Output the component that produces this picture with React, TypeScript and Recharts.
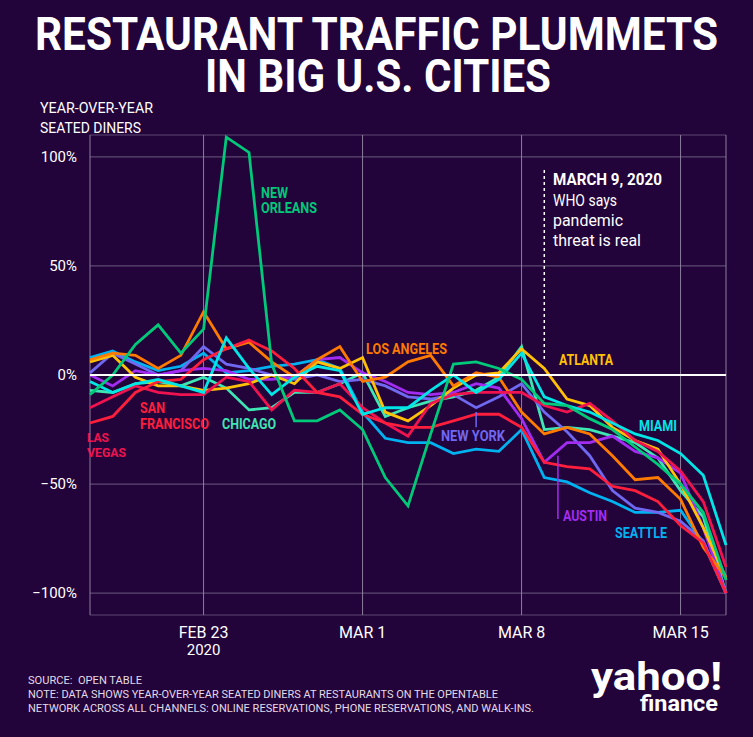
import React from 'react';
import { LineChart, Line, XAxis, YAxis, CartesianGrid, ReferenceLine } from 'recharts';

const dates = [
  'Feb 18', 'Feb 19', 'Feb 20', 'Feb 21', 'Feb 22', 'Feb 23', 'Feb 24', 'Feb 25', 'Feb 26', 'Feb 27',
  'Feb 28', 'Feb 29', 'Mar 1', 'Mar 2', 'Mar 3', 'Mar 4', 'Mar 5', 'Mar 6', 'Mar 7', 'Mar 8',
  'Mar 9', 'Mar 10', 'Mar 11', 'Mar 12', 'Mar 13', 'Mar 14', 'Mar 15', 'Mar 16', 'Mar 17',
];

// year-over-year change in seated diners, %
const newOrleans = [-9, 0, 14, 23, 10, 21, 109, 102, 5, -21, -21, -16, -25, -47, -60, -27, 5, 6, 3, -2, -13, -14, -20, -25, -33, -41, -50, -63, -94];
const losAngeles = [7, 10, 9, 3, 9, 29, 12, 15, 6, -1, 7, 13, -3, -1, 6, 9, -5, 1, -1, -17, -27, -24, -27, -37, -48, -47, -57, -79, -93];
const atlanta = [6, 9, -1, -5, -5, -7, -6, -4, 0, -4, 6, 3, 8, -17, -21, -14, -6, 0, 1, 12, 3, -11, -14, -24, -30, -34, -50, -70, -93];
const miami = [-3, -8, -4, -2, -5, -8, 17, 3, -9, -1, 4, 2, -18, -15, -15, -7, 0, -8, -2, 10, -10, -14, -17, -22, -27, -30, -36, -46, -78];
const seattle = [8, 11, 6, 2, 4, 10, 1, 2, 4, 5, 7, 3, -17, -29, -31, -31, -36, -34, -35, -25, -47, -49, -54, -58, -63, -63, -62, -77, -100];
const newYork = [1, 10, 5, 0, 2, 13, 5, 3, 0, -2, 0, -3, -2, -5, -10, -11, -9, -15, -10, -4, -17, -26, -37, -53, -61, -63, -67, -76, -100];
const austin = [0, -5, 2, 0, 2, 3, 2, -2, -2, -1, 7, 8, 1, -3, -8, -9, -8, -4, -6, -20, -40, -31, -31, -28, -35, -38, -45, -70, -100];
const sanFrancisco = [-15, -10, -5, -8, -9, -9, -1, -3, -16, -7, -8, -4, -15, -22, -28, -13, -9, -8, -8, -8, -14, -17, -13, -21, -30, -35, -44, -58, -88];
const lasVegas = [-22, -19, -8, -3, -2, 7, 12, 16, 11, 3, -8, -10, -18, -22, -24, -24, -21, -18, -18, -24, -40, -42, -43, -51, -53, -58, -69, -77, -100];
const chicago = [-7, -8, -4, -3, -5, -1, -6, -16, -15, -8, -8, -4, 1, -19, -15, -12, -10, -7, -1, 13, -25, -24, -25, -28, -31, -38, -53, -65, -100];

const yTicks = [-100, -50, 0, 50, 100];
const xTicks = [5, 12, 19, 26];

const cities = [
  { key: 'chicago', values: chicago, color: '#3ee6b4' },
  { key: 'seattle', values: seattle, color: '#00b2f0' },
  { key: 'newYork', values: newYork, color: '#7068f0' },
  { key: 'austin', values: austin, color: '#a32cf2' },
  { key: 'atlanta', values: atlanta, color: '#ffc107' },
  { key: 'losAngeles', values: losAngeles, color: '#ff7a00' },
  { key: 'sanFrancisco', values: sanFrancisco, color: '#f0134f' },
  { key: 'lasVegas', values: lasVegas, color: '#ff1f3d' },
  { key: 'miami', values: miami, color: '#00e5e5' },
  { key: 'newOrleans', values: newOrleans, color: '#00c97a' },
];

const data = dates.map((d, i) => {
  const row: Record<string, number | string> = { i, date: d };
  cities.forEach((c) => { row[c.key] = c.values[i]; });
  return row;
});

const BG = '#22033a';
const FONT = 'Roboto, "DejaVu Sans", sans-serif';

const DateTick = (props: any) => {
  const { x, y, payload } = props;
  const label = dates[payload.value].toUpperCase();
  return (
    <g>
      <text x={x} y={y + 15} textAnchor="middle" fill="#fff" fontSize={16} fontFamily={FONT}>{label}</text>
      {payload.value === 5 && (
        <text x={x} y={y + 32} textAnchor="middle" fill="#fff" fontSize={15} fontFamily={FONT}>2020</text>
      )}
    </g>
  );
};

const PctTick = (props: any) => {
  const { x, y, payload } = props;
  const v = payload.value;
  const label = v < 0 ? `\u2212${-v}%` : `${v}%`;
  return (
    <text x={x} y={y + 5} textAnchor="end" fill="#fff" fontSize={15} fontFamily={FONT}>{label}</text>
  );
};

const Lbl = ({ x, y, w, color, size = 14, weight = 700, children }: any) => (
  <text x={x} y={y} fill={color} fontSize={size} fontWeight={weight} fontFamily={FONT}
    textLength={w} lengthAdjust="spacingAndGlyphs" style={{ whiteSpace: 'pre' }}>{children}</text>
);

export default function App() {
  return (
    <div style={{ position: 'relative', width: 753, height: 737, background: BG, overflow: 'hidden' }}>
      <style>{'body{margin:0}'}</style>
      <LineChart width={753} height={737} data={data} margin={{ top: 135, right: 27, bottom: 0, left: 0 }}>
        <CartesianGrid horizontal={true} vertical={false} stroke="#5d4a72" strokeWidth={1.2} />
        <CartesianGrid horizontal={false} vertical={true} stroke="#8c7f9c" strokeWidth={1} />
        <XAxis dataKey="i" type="number" domain={[0, 28]} ticks={xTicks} height={122}
          axisLine={false} tickLine={false} tick={<DateTick />} interval={0} />
        <YAxis type="number" domain={[-110, 110]} ticks={yTicks} width={90}
          axisLine={false} tickLine={false} tick={<PctTick />} tickMargin={7} interval={0} />
        {cities.map((c) => (
          <Line key={c.key} dataKey={c.key} stroke={c.color} strokeWidth={2.8} dot={false}
            type="linear" isAnimationActive={false} strokeLinejoin="miter" />
        ))}
        <ReferenceLine y={0} stroke="#ffffff" strokeWidth={2} />
        <ReferenceLine segment={[{ x: 20, y: 94 }, { x: 20, y: 6 }]} stroke="#ffffff" strokeWidth={1.5} strokeDasharray="3 3" />
        <ReferenceLine segment={[{ x: 17, y: -17 }, { x: 17, y: -24 }]} stroke="#7068f0" strokeWidth={1.5} />
        <ReferenceLine segment={[{ x: 20.6, y: -37 }, { x: 20.6, y: -66 }]} stroke="#a32cf2" strokeWidth={1.5} />
      </LineChart>

      <svg width={753} height={737} style={{ position: 'absolute', left: 0, top: 0, pointerEvents: 'none' }}>
        <Lbl x={35} y={50} w={683} color="#fff" size={46} weight={700}>RESTAURANT TRAFFIC PLUMMETS</Lbl>
        <Lbl x={205} y={92} w={346} color="#fff" size={46} weight={700}>IN BIG U.S. CITIES</Lbl>

        <Lbl x={40} y={113} w={113} color="#fff" size={14} weight={400}>YEAR-OVER-YEAR</Lbl>
        <Lbl x={40} y={133} w={101} color="#fff" size={14} weight={400}>SEATED DINERS</Lbl>

        <Lbl x={553} y={185} w={109} color="#fff" size={16} weight={700}>MARCH 9, 2020</Lbl>
        <Lbl x={553} y={206} w={64} color="#fff" size={16} weight={400}>WHO says</Lbl>
        <Lbl x={553} y={226} w={70} color="#fff" size={16} weight={400}>pandemic</Lbl>
        <Lbl x={553} y={246} w={88} color="#fff" size={16} weight={400}>threat is real</Lbl>

        <Lbl x={261} y={198} w={27} color="#00c97a">NEW</Lbl>
        <Lbl x={261} y={213} w={56} color="#00c97a">ORLEANS</Lbl>
        <Lbl x={366} y={354} w={81} color="#ff7a00">LOS ANGELES</Lbl>
        <Lbl x={559} y={365} w={54} color="#ffc107">ATLANTA</Lbl>
        <Lbl x={639} y={431} w={38} color="#00e5e5">MIAMI</Lbl>
        <Lbl x={563} y={521} w={44} color="#a32cf2">AUSTIN</Lbl>
        <Lbl x={615} y={538} w={52} color="#00b2f0">SEATTLE</Lbl>
        <Lbl x={441} y={441} w={64} color="#7068f0">NEW YORK</Lbl>
        <Lbl x={222} y={429} w={54} color="#3ee6b4">CHICAGO</Lbl>
        <Lbl x={140} y={413} w={25} color="#ff1f3d">SAN</Lbl>
        <Lbl x={140} y={429} w={69} color="#ff1f3d">FRANCISCO</Lbl>
        <Lbl x={87} y={442} w={22} color="#f0134f" size={13}>LAS</Lbl>
        <Lbl x={87} y={457} w={39} color="#f0134f" size={13}>VEGAS</Lbl>

        <Lbl x={28} y={684} w={114} color="#e2dbe8" size={11} weight={400}>SOURCE:  OPEN TABLE</Lbl>
        <Lbl x={28} y={698} w={470} color="#e2dbe8" size={11} weight={400}>NOTE: DATA SHOWS YEAR-OVER-YEAR SEATED DINERS AT RESTAURANTS ON THE OPENTABLE</Lbl>
        <Lbl x={28} y={712} w={506} color="#e2dbe8" size={11} weight={400}>NETWORK ACROSS ALL CHANNELS: ONLINE RESERVATIONS, PHONE RESERVATIONS, AND WALK-INS.</Lbl>

        <Lbl x={591} y={690} w={131} color="#fff" size={38} weight={700}>yahoo!</Lbl>
        <Lbl x={640} y={711} w={78} color="#fff" size={22} weight={700}>finance</Lbl>
      </svg>
    </div>
  );
}
